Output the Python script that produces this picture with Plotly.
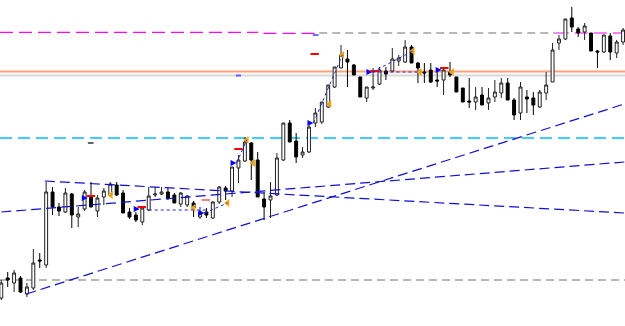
import plotly.graph_objects as go

# ---- candle data (price units; higher = up) ----
opens = [28,48,43,48,32,38,66,61,134,119,114,132,109,117,130,115,129,131,141,133,
         114,111,104,116,131,132,134,131,122,121,123,109,114,108,124,138,135,158,165,183,
         166,127,126,131,166,203,185,171,174,203,204,219,239,258,267,261,249,228,238,242,
         255,255,265,264,279,263,254,256,246,246,254,249,238,225,224,231,223,229,233,243,
         226,213,229,228,219,233,244,283,287,308,297,294,293,275,274,290,273,284]
highs = [46,54,56,50,43,77,73,144,139,123,138,133,119,136,144,131,138,144,144,136,
         118,114,118,139,139,139,138,133,134,131,125,119,118,125,140,140,159,171,189,184,
         174,134,144,173,203,206,193,179,201,218,224,241,259,281,276,262,249,239,258,259,
         259,278,271,286,281,264,263,263,258,259,264,249,238,248,239,239,238,246,248,248,
         228,244,236,234,236,254,283,291,307,319,299,303,293,276,291,293,286,298]
lows  = [26,39,34,33,29,36,58,58,111,110,113,98,99,115,119,109,121,129,130,113,
         107,104,101,115,129,131,126,123,119,119,109,107,108,107,122,126,129,143,164,146,
         129,106,108,130,165,184,163,168,173,199,202,218,238,258,239,251,229,224,236,241,
         246,254,260,263,263,243,243,243,239,231,249,234,224,218,216,221,216,224,228,226,
         206,206,213,211,218,226,244,276,286,294,289,286,275,258,273,266,268,281]
closes= [43,46,53,34,39,63,65,134,119,115,133,111,112,134,119,128,135,142,131,113,
         109,106,118,130,132,134,128,123,133,130,118,114,111,124,139,135,159,166,184,166,
         129,119,130,168,203,184,169,174,199,213,224,241,259,271,264,251,229,239,239,256,
         252,267,268,279,263,258,253,244,245,256,251,234,224,224,229,221,228,234,243,226,
         211,239,227,221,234,241,276,287,307,299,293,300,275,274,291,274,284,296]
bars = list(range(len(opens)))

# ---- horizontal levels ----
magenta_level = [293.7, 292.7]
salmon_level = 254.5
grey_solid_level = 250.5
cyan_level = 188
grey_dash_low = 46
grey_dash_top = 293

# ---- trend lines (bar index, price) ----
trend_up = [(3.9, 32), (97.2, 222)]
trend_mid = [(0, 114), (97.2, 164)]
trend_down = [(6.8, 145), (97.2, 113)]

# ---- signal markers ----
orange_x = [17.1, 30.0, 35.3, 38.3, 39.3, 51.2, 53.2, 64.2, 65.3, 70.3]
orange_y = [131, 118, 123, 186, 163, 222, 271, 275, 254, 254]
blue_x = [13.5, 21.6, 31.7, 36.7, 48.7, 57.9, 68.7]
blue_y = [128, 117, 113, 163, 203, 254, 256]
red_x = [14.0, 21.9, 37.0, 58.2, 69.1, 48.9]
red_y = [130, 119, 177, 255, 258, 272]
pink_x = [31.9]
pink_y = [126]

fig = go.Figure()
fig.add_trace(go.Candlestick(
    x=bars, open=opens, high=highs, low=lows, close=closes,
    increasing=dict(fillcolor="white", line=dict(color="#202020", width=1)),
    decreasing=dict(fillcolor="black", line=dict(color="black", width=1)),
    whiskerwidth=0, hoverinfo="skip"))

shapes = []
def hline(x0, x1, y, color, width, dash="solid"):
    shapes.append(dict(type="line", xref="x", yref="y", x0=x0, x1=x1, y0=y, y1=y,
                       line=dict(color=color, width=width, dash=dash), layer="below"))

XMIN, XMAX = -0.2, 97.3
hline(XMIN, 40.1, magenta_level[0], "#FF00FF", 1.2, "13px,6px")
hline(40.9, 49.1, magenta_level[1], "#FF00FF", 1.2, "13px,6px")
hline(49.6, 86.5, grey_dash_top, "#707070", 1, "8px,5px")
hline(86.5, XMAX, grey_dash_top, "#FF00FF", 1.2, "13px,6px")
hline(XMIN, XMAX, salmon_level, "#FFA07A", 2)
hline(XMIN, XMAX, grey_solid_level, "#D8D8D8", 2)
hline(XMIN, XMAX, cyan_level, "#00BFFF", 1.5, "12px,6px")
hline(XMIN, XMAX, grey_dash_low, "#707070", 1, "8px,5px")
# small level ticks
hline(36.6, 37.4, 250.5, "#6060FF", 2)
hline(48.6, 49.5, 291, "#4040FF", 1.5)
hline(13.5, 14.4, 183, "#000000", 1.2)

for (a, b) in [trend_up, trend_mid, trend_down]:
    shapes.append(dict(type="line", xref="x", yref="y", x0=a[0], y0=a[1], x1=b[0], y1=b[1],
                       line=dict(color="#1010D0", width=1.2, dash="10px,5px")))

# dotted helper lines
dotted = [((23.0, 116), (31.9, 116)), ((31.7, 113), (35.3, 123)), ((36.7, 163), (38.3, 186)),
          ((48.7, 203), (53.2, 271)), ((57.9, 254), (64.2, 275)), ((57.9, 254), (65.3, 254))]
for a, b in dotted:
    shapes.append(dict(type="line", xref="x", yref="y", x0=a[0], y0=a[1], x1=b[0], y1=b[1],
                       line=dict(color="#2020E0", width=1, dash="dot")))

fig.add_trace(go.Scatter(x=orange_x, y=orange_y, mode="markers", hoverinfo="skip",
                         marker=dict(symbol="triangle-left", size=7, color="#E8A317")))
fig.add_trace(go.Scatter(x=blue_x, y=blue_y, mode="markers", hoverinfo="skip",
                         marker=dict(symbol="arrow-right", size=6, color="#0000FF",
                                     line=dict(width=0))))
fig.add_trace(go.Scatter(x=red_x, y=red_y, mode="markers", hoverinfo="skip",
                         marker=dict(symbol="line-ew", size=6, line=dict(color="#FF0000", width=2))))
fig.add_trace(go.Scatter(x=pink_x, y=pink_y, mode="markers", hoverinfo="skip",
                         marker=dict(symbol="line-ew", size=6, line=dict(color="#FF8080", width=2))))

fig.update_layout(
    width=625, height=326, margin=dict(l=0, r=0, t=0, b=0),
    paper_bgcolor="white", plot_bgcolor="white", showlegend=False,
    shapes=shapes, boxgap=0.35,
    xaxis=dict(visible=False, range=[XMIN, XMAX], rangeslider=dict(visible=False), fixedrange=True),
    yaxis=dict(visible=False, range=[0, 326], fixedrange=True),
)
fig.write_html("out.html")
